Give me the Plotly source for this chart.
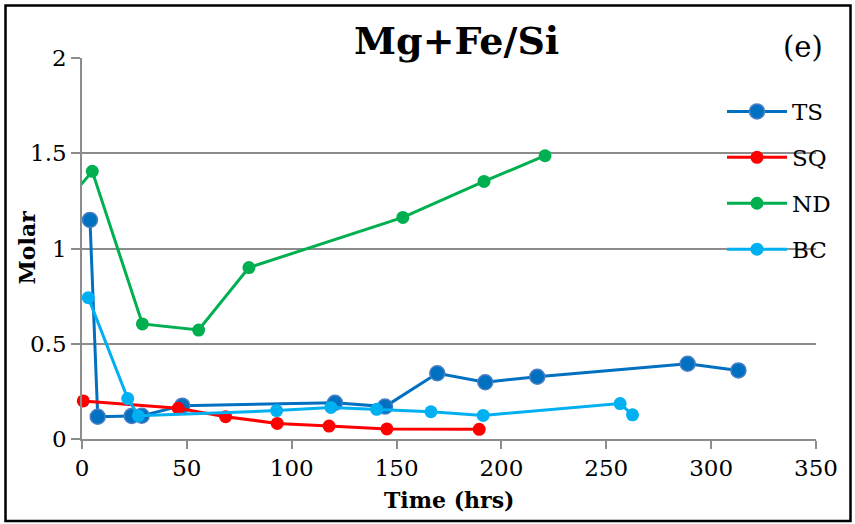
import plotly.graph_objects as go

# Mg+Fe/Si molar ratio over time for four samples
ts_time = [3.8, 7.5, 23.7, 28.5, 47.8, 120.6, 144.5, 169.4, 192.3, 217.1, 288.8, 313.0]
ts_val = [1.15, 0.117, 0.121, 0.122, 0.175, 0.19, 0.17, 0.345, 0.298, 0.327, 0.395, 0.36]

sq_time = [0.6, 45.9, 68.5, 93.1, 117.8, 145.4, 189.4]
sq_val = [0.20, 0.161, 0.117, 0.082, 0.068, 0.053, 0.051]

nd_time = [-2.0, 4.9, 28.8, 55.6, 79.6, 153.0, 191.7, 220.8]
nd_val = [1.315, 1.405, 0.604, 0.572, 0.90, 1.163, 1.352, 1.487]

bc_time = [3.0, 21.8, 26.9, 92.8, 118.7, 140.5, 166.4, 191.3, 256.6, 262.5]
bc_val = [0.742, 0.212, 0.122, 0.149, 0.166, 0.156, 0.143, 0.124, 0.186, 0.127]

x_ticks = [0, 50, 100, 150, 200, 250, 300, 350]
y_ticks = [0, 0.5, 1, 1.5, 2]

SERIF = "DejaVu Serif"
GRID = "#8C8C8C"

fig = go.Figure()

# name, x, y, colour, marker size, marker outline, clip markers to plot area
series = [
    ("TS", ts_time, ts_val, "#0070C0", 15, dict(color="#4A7EC4", width=1.5), False),
    ("SQ", sq_time, sq_val, "#FF0000", 13, dict(width=0), False),
    ("ND", nd_time, nd_val, "#00B050", 13, dict(width=0), True),
    ("BC", bc_time, bc_val, "#00B0F0", 13, dict(width=0), False),
]
for name, xs, ys, color, msize, mline, clip in series:
    fig.add_trace(go.Scatter(
        x=xs, y=ys, name=name, legendgroup=name,
        mode="lines+markers", cliponaxis=clip,
        line=dict(color=color, width=3),
        marker=dict(color=color, size=msize, line=mline),
    ))

W, H = 855, 524
L, R, T, B = 82, 39, 58, 85
pw, ph = W - L - R, H - T - B


def px(x):
    return (x - L) / pw


def py(y):
    return (H - B - y) / ph


fig.update_layout(
    width=W, height=H,
    margin=dict(l=L, r=R, t=T, b=B),
    paper_bgcolor="white", plot_bgcolor="white",
    font=dict(family=SERIF, size=23, color="black"),
    showlegend=True,
    legend=dict(
        x=px(722), y=py(90), xanchor="left", yanchor="top",
        bgcolor="rgba(0,0,0,0)", font=dict(family=SERIF, size=23),
        tracegroupgap=13, itemwidth=60,
    ),
    xaxis=dict(
        range=[0, 350], tickvals=x_ticks, showgrid=False, zeroline=False,
        showline=True, linecolor=GRID, linewidth=1.5,
        ticks="outside", ticklen=8, tickwidth=1.5, tickcolor=GRID,
        tickfont=dict(family=SERIF, size=23),
    ),
    yaxis=dict(
        range=[0, 2], tickvals=y_ticks, showgrid=True, gridcolor=GRID, gridwidth=1.5,
        zeroline=False, showline=True, linecolor=GRID, linewidth=1.5,
        ticks="outside", ticklen=9, tickwidth=1.5, tickcolor=GRID,
        tickfont=dict(family=SERIF, size=23),
    ),
    shapes=[dict(
        type="rect", xref="paper", yref="paper",
        x0=px(5.5), x1=px(850.5), y0=py(521), y1=py(5.5),
        line=dict(color="black", width=2.5), fillcolor="rgba(0,0,0,0)",
    )],
    annotations=[
        dict(text="<b>Mg+Fe/Si</b>", x=px(456), y=py(40), xref="paper", yref="paper",
             showarrow=False, xanchor="center", yanchor="middle",
             font=dict(family=SERIF, size=38)),
        dict(text="(e)", x=px(803), y=py(47), xref="paper", yref="paper",
             showarrow=False, xanchor="center", yanchor="middle",
             font=dict(family=SERIF, size=29)),
        dict(text="<b>Molar</b>", x=px(26), y=py(247.5), xref="paper", yref="paper",
             showarrow=False, xanchor="center", yanchor="middle", textangle=-90,
             font=dict(family=SERIF, size=22)),
        dict(text="<b>Time (hrs)</b>", x=px(449), y=py(500), xref="paper", yref="paper",
             showarrow=False, xanchor="center", yanchor="middle",
             font=dict(family=SERIF, size=22)),
    ],
)

fig.write_html("out.html")
